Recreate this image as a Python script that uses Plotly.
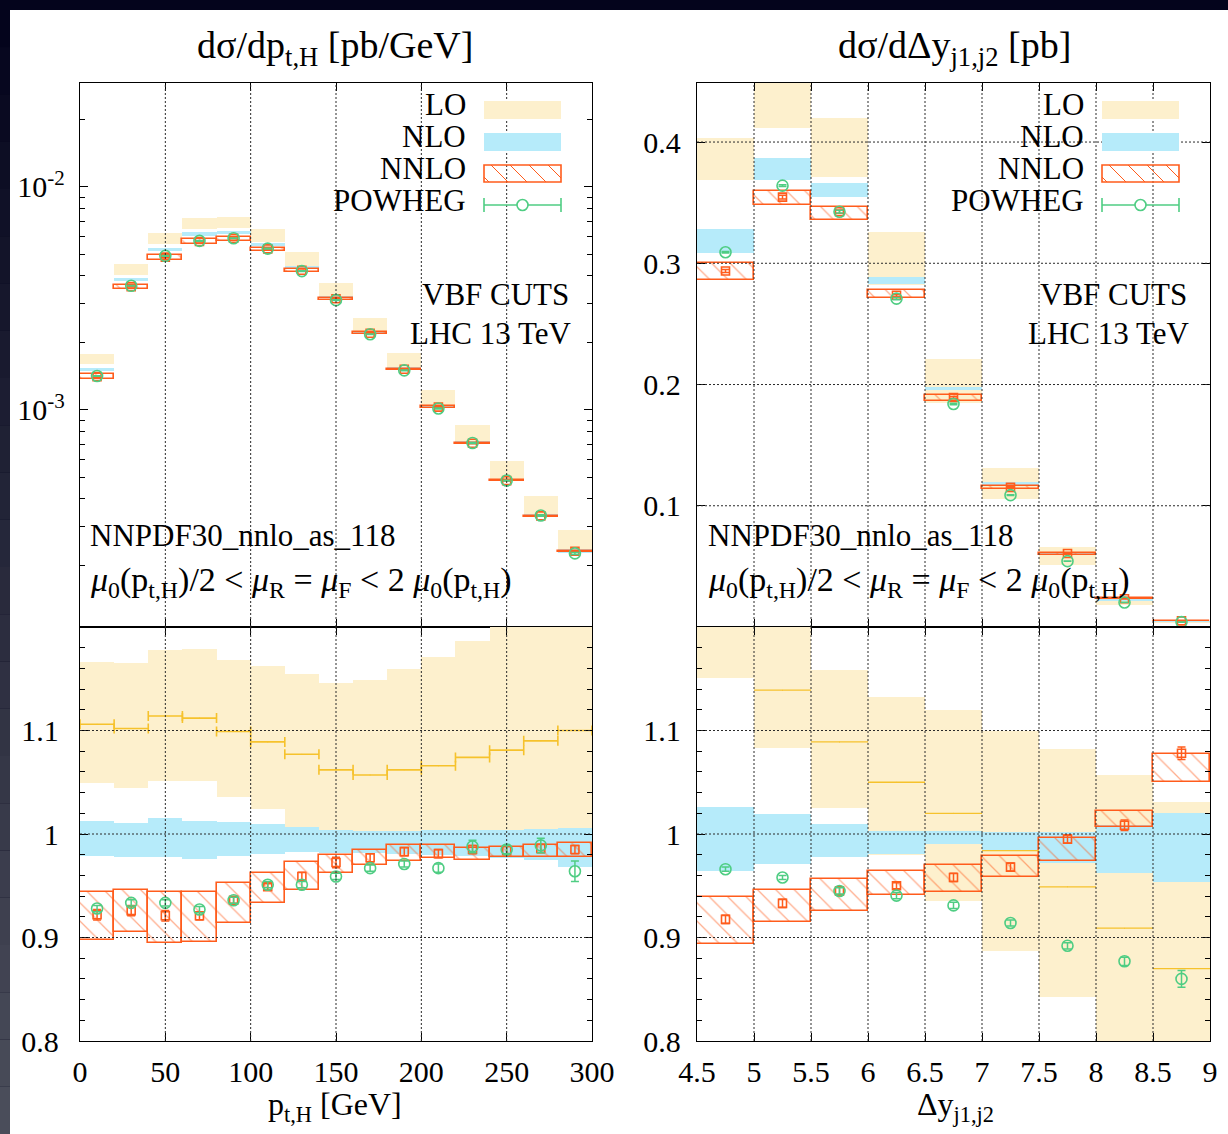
import plotly.graph_objects as go

SERIF = "Liberation Serif"
LO_FILL = "#fdf0cd"
NLO_FILL = "#b6ebfa"
NNLO_COL = "#ff5c1c"
PW_COL = "#4fcd83"
LO_LINE = "#f6c22c"
GRID_COL = "#2a2a2a"

W, H = 1228, 1134

# ---------------- Higgs transverse momentum ----------------
pt_edges = [0, 20, 40, 60, 80, 100, 120, 140, 160, 180, 200, 220, 240, 260, 280, 300]
# NLO central value [pb/GeV]; every other quantity is given as a ratio to it
pt_nlo = [1.53e-3, 3.86e-3, 5.26e-3, 6.18e-3, 6.29e-3, 5.56e-3, 4.41e-3, 3.24e-3,
          2.26e-3, 1.55e-3, 1.05e-3, 7.2e-4, 4.9e-4, 3.4e-4, 2.36e-4]
pt_lo_c = [1.106, 1.102, 1.114, 1.112, 1.099, 1.089, 1.077, 1.062, 1.057, 1.062,
           1.066, 1.074, 1.081, 1.090, 1.100]
pt_lo_dn = [1.049, 1.044, 1.051, 1.051, 1.036, 1.024, 1.007, 1.004, 1.003, 1.003,
            1.004, 1.004, 1.004, 1.005, 1.006]
pt_lo_up = [1.166, 1.165, 1.178, 1.179, 1.168, 1.162, 1.155, 1.146, 1.149, 1.159,
            1.171, 1.186, 1.205, 1.210, 1.230]
pt_nlo_dn = [0.979, 0.978, 0.978, 0.976, 0.979, 0.981, 0.983, 0.982, 0.982, 0.981,
             0.980, 0.979, 0.977, 0.975, 0.968]
pt_nlo_up = [1.013, 1.011, 1.015, 1.013, 1.012, 1.010, 1.007, 1.004, 1.003, 1.003,
             1.004, 1.004, 1.004, 1.005, 1.006]
pt_nnlo_c = [0.922, 0.926, 0.921, 0.921, 0.936, 0.949, 0.959, 0.9725, 0.977, 0.983,
             0.981, 0.985, 0.984, 0.986, 0.985]
pt_nnlo_dn = [0.898, 0.905, 0.895, 0.896, 0.914, 0.933, 0.946, 0.962, 0.970, 0.974,
              0.977, 0.975, 0.978, 0.978, 0.978]
pt_nnlo_up = [0.944, 0.946, 0.944, 0.944, 0.953, 0.962, 0.9725, 0.980, 0.985, 0.989,
              0.989, 0.986, 0.987, 0.989, 0.991]
pt_nnlo_err = [0.005, 0.005, 0.005, 0.004, 0.003, 0.003, 0.004, 0.005, 0.004, 0.004,
               0.004, 0.004, 0.004, 0.004, 0.004]
pt_pw_c = [0.928, 0.9335, 0.9335, 0.927, 0.936, 0.951, 0.951, 0.959, 0.967, 0.971,
           0.967, 0.988, 0.985, 0.989, 0.964]
pt_pw_err = [0.003, 0.003, 0.003, 0.003, 0.003, 0.003, 0.003, 0.003, 0.003, 0.003,
             0.004, 0.006, 0.004, 0.007, 0.010]

# ---------------- rapidity separation of the tagging jets ----------------
dy_edges = [4.5, 5.0, 5.5, 6.0, 6.5, 7.0, 7.5, 8.0, 8.5, 9.0]
dy_nlo = [0.320, 0.380, 0.3625, 0.288, 0.1976, 0.119, 0.0609, 0.0231, 0.0047]
dy_lo_c = [1.205, 1.139, 1.089, 1.050, 1.020, 0.984, 0.949, 0.909, 0.870]
dy_lo_dn = [1.151, 1.083, 1.025, 0.980, 0.935, 0.887, 0.843, 0.790, 0.790]
dy_lo_up = [1.260, 1.230, 1.158, 1.132, 1.120, 1.100, 1.082, 1.057, 1.031]
dy_nlo_dn = [0.964, 0.971, 0.978, 0.981, 0.990, 0.985, 0.972, 0.962, 0.954]
dy_nlo_up = [1.026, 1.019, 1.010, 1.003, 1.003, 1.002, 1.002, 1.009, 1.020]
dy_nnlo_c = [0.9175, 0.933, 0.945, 0.950, 0.958, 0.968, 0.995, 1.0085, 1.078]
dy_nnlo_dn = [0.894, 0.915, 0.926, 0.941, 0.944, 0.958, 0.974, 1.007, 1.050]
dy_nnlo_up = [0.939, 0.946, 0.9565, 0.964, 0.970, 0.9785, 0.996, 1.022, 1.077]
dy_nnlo_err = [0.004, 0.004, 0.004, 0.003, 0.004, 0.004, 0.004, 0.005, 0.006]
dy_pw_c = [0.966, 0.958, 0.945, 0.9405, 0.931, 0.914, 0.892, 0.877, 0.860]
dy_pw_err = [0.002, 0.002, 0.003, 0.003, 0.003, 0.003, 0.003, 0.004, 0.008]

# axis ticks
pt_ticks = [0, 50, 100, 150, 200, 250, 300]
dy_ticks = [4.5, 5.0, 5.5, 6.0, 6.5, 7.0, 7.5, 8.0, 8.5, 9.0]
dy_ticktext = ["4.5", "5", "5.5", "6", "6.5", "7", "7.5", "8", "8.5", "9"]
ratio_ticks = [0.8, 0.9, 1.0, 1.1]
ratio_ticktext = ["0.8", "0.9", "1", "1.1"]
xs_log_ticks = [1e-3, 1e-2]
xs_log_minor = [2e-4, 3e-4, 4e-4, 5e-4, 6e-4, 7e-4, 8e-4, 9e-4,
                2e-3, 3e-3, 4e-3, 5e-3, 6e-3, 7e-3, 8e-3, 9e-3, 2e-2]
xs_lin_ticks = [0.1, 0.2, 0.3, 0.4]


def px(x):
    return x / W


def py(y):
    return 1 - y / H


fig = go.Figure()


def bins(edges):
    mids = [(a + b) / 2 for a, b in zip(edges[:-1], edges[1:])]
    wids = [b - a for a, b in zip(edges[:-1], edges[1:])]
    return mids, wids


def band(x, w, lo, hi, xa, ya, color):
    fig.add_trace(go.Bar(
        x=x, y=[h - l for l, h in zip(lo, hi)], base=lo, width=w,
        marker=dict(color=color, line=dict(width=0)),
        xaxis=xa, yaxis=ya, showlegend=False, hoverinfo="skip"))


def hatched(x, w, lo, hi, xa, ya):
    fig.add_trace(go.Bar(
        x=x, y=[h - l for l, h in zip(lo, hi)], base=lo, width=w,
        marker=dict(color="rgba(0,0,0,0)",
                    line=dict(color=NNLO_COL, width=1.6),
                    pattern=dict(shape="\\", fgcolor=NNLO_COL, bgcolor="rgba(0,0,0,0)",
                                 size=13, solidity=0.1, fillmode="overlay")),
        xaxis=xa, yaxis=ya, showlegend=False, hoverinfo="skip"))


def points(x, y, err, xa, ya, symbol, size, color):
    fig.add_trace(go.Scatter(
        x=x, y=y, mode="markers",
        marker=dict(symbol=symbol, size=size, color=color, line=dict(color=color, width=1.6)),
        error_y=dict(type="data", array=err, color=color, thickness=1.5, width=4),
        xaxis=xa, yaxis=ya, showlegend=False, hoverinfo="skip", cliponaxis=True))


def panel(edges, nlo, lo_c, lo_dn, lo_up, nlo_dn, nlo_up, nnlo_c, nnlo_dn, nnlo_up,
          nnlo_err, pw_c, pw_err, top, bot, cap, lo_width):
    x, w = bins(edges)

    def absval(ratio):
        return [n * q for n, q in zip(nlo, ratio)]

    # absolute cross sections
    band(x, w, absval(lo_dn), absval(lo_up), top[0], top[1], LO_FILL)
    band(x, w, absval(nlo_dn), absval(nlo_up), top[0], top[1], NLO_FILL)
    hatched(x, w, absval(nnlo_dn), absval(nnlo_up), top[0], top[1])
    points(x, absval(nnlo_c), absval(nnlo_err), top[0], top[1], "square-open", 8, NNLO_COL)
    points(x, absval(pw_c), absval(pw_err), top[0], top[1], "circle-open", 11, PW_COL)

    # ratios to NLO
    band(x, w, lo_dn, lo_up, bot[0], bot[1], LO_FILL)
    band(x, w, nlo_dn, nlo_up, bot[0], bot[1], NLO_FILL)
    hatched(x, w, nnlo_dn, nnlo_up, bot[0], bot[1])
    fig.add_trace(go.Scatter(
        x=x, y=lo_c, mode="markers", marker=dict(size=1, color=LO_LINE),
        error_x=dict(type="data", array=[v / 2 for v in w], color=LO_LINE,
                     thickness=lo_width, width=cap),
        xaxis=bot[0], yaxis=bot[1], showlegend=False, hoverinfo="skip"))
    points(x, nnlo_c, nnlo_err, bot[0], bot[1], "square-open", 8, NNLO_COL)
    points(x, pw_c, pw_err, bot[0], bot[1], "circle-open", 11, PW_COL)


panel(pt_edges, pt_nlo, pt_lo_c, pt_lo_dn, pt_lo_up, pt_nlo_dn, pt_nlo_up,
      pt_nnlo_c, pt_nnlo_dn, pt_nnlo_up, pt_nnlo_err, pt_pw_c, pt_pw_err,
      ("x", "y"), ("x2", "y2"), cap=5, lo_width=1.6)
panel(dy_edges, dy_nlo, dy_lo_c, dy_lo_dn, dy_lo_up, dy_nlo_dn, dy_nlo_up,
      dy_nnlo_c, dy_nnlo_dn, dy_nnlo_up, dy_nnlo_err, dy_pw_c, dy_pw_err,
      ("x3", "y3"), ("x4", "y4"), cap=0, lo_width=1.3)

# ---------------- axes ----------------
TICKFONT = dict(family=SERIF, size=30, color="black")
base_axis = dict(showline=True, linecolor="black", linewidth=1.3, mirror="allticks",
                 ticks="inside", ticklen=8, tickwidth=1.2, tickcolor="black",
                 showgrid=False, zeroline=False, tickfont=TICKFONT, layer="above traces",
                 automargin=False)

left_dom = [px(80), px(592)]
right_dom = [px(697), px(1210)]
top_dom = [py(627), py(83)]
bot_dom = [py(1041), py(627)]

minor_ratio = dict(tickmode="linear", tick0=0.8, dtick=0.02, ticks="inside",
                   ticklen=5, tickcolor="black", tickwidth=1.2, showgrid=False)

fig.update_layout(
    template="none",
    xaxis=dict(base_axis, domain=left_dom, anchor="y", range=[0, 300],
               tickmode="array", tickvals=pt_ticks, showticklabels=False),
    yaxis=dict(base_axis, domain=top_dom, anchor="x", type="log", range=[-3.973, -1.534],
               tickmode="array", tickvals=xs_log_ticks,
               ticktext=["10<sup>-3</sup>", "10<sup>-2</sup>"], ticklabelstandoff=8,
               minor=dict(tickmode="array", tickvals=xs_log_minor, ticks="inside",
                          ticklen=5, tickcolor="black", tickwidth=1.2, showgrid=False)),
    xaxis2=dict(base_axis, domain=left_dom, anchor="y2", range=[0, 300],
                tickmode="array", tickvals=pt_ticks, ticklabelstandoff=4),
    yaxis2=dict(base_axis, domain=bot_dom, anchor="x2", range=[0.8, 1.2],
                tickmode="array", tickvals=ratio_ticks, ticktext=ratio_ticktext,
                ticklabelstandoff=14, minor=minor_ratio),
    xaxis3=dict(base_axis, domain=right_dom, anchor="y3", range=[4.5, 9],
                tickmode="array", tickvals=dy_ticks, showticklabels=False),
    yaxis3=dict(base_axis, domain=top_dom, anchor="x3", range=[0, 0.4487],
                tickmode="array", tickvals=xs_lin_ticks, ticklabelstandoff=9),
    xaxis4=dict(base_axis, domain=right_dom, anchor="y4", range=[4.5, 9],
                tickmode="array", tickvals=dy_ticks, ticktext=dy_ticktext,
                ticklabelstandoff=4),
    yaxis4=dict(base_axis, domain=bot_dom, anchor="x4", range=[0.8, 1.2],
                tickmode="array", tickvals=ratio_ticks, ticktext=ratio_ticktext,
                ticklabelstandoff=9, minor=minor_ratio),
)

shapes = []

# page: dark slide border around the white plot sheet
shapes.append(dict(type="rect", xref="paper", yref="paper", x0=px(10), x1=1, y0=0, y1=py(10),
                   fillcolor="white", line=dict(width=0), layer="below"))
n_strip = 24
c_top, c_bot = (4, 4, 28), (74, 77, 90)
for i in range(n_strip):
    t = i / (n_strip - 1)
    col = "rgb(%d,%d,%d)" % tuple(round(a + (b - a) * t) for a, b in zip(c_top, c_bot))
    shapes.append(dict(type="rect", xref="paper", yref="paper", x0=0, x1=px(10),
                       y0=py(H * (i + 1) / n_strip), y1=py(H * i / n_strip),
                       fillcolor=col, line=dict(width=0), layer="below"))

# dotted grid, drawn in front of the bands
GRID = dict(color=GRID_COL, width=1, dash="2px,2px")


def vgrid(xa, ya, vals):
    for v in vals:
        shapes.append(dict(type="line", xref=xa, yref=ya + " domain", x0=v, x1=v, y0=0, y1=1,
                           line=GRID, layer="above"))


def hgrid(xa, ya, vals):
    for v in vals:
        shapes.append(dict(type="line", xref=xa + " domain", yref=ya, x0=0, x1=1, y0=v, y1=v,
                           line=GRID, layer="above"))


vgrid("x", "y", pt_ticks[1:-1])
hgrid("x", "y", [-3, -2])  # log axis: exponents of 1e-3 and 1e-2
vgrid("x2", "y2", pt_ticks[1:-1])
hgrid("x2", "y2", ratio_ticks[1:])
vgrid("x3", "y3", dy_ticks[1:-1])
hgrid("x3", "y3", xs_lin_ticks)
vgrid("x4", "y4", dy_ticks[1:-1])
hgrid("x4", "y4", ratio_ticks[1:])

annotations = []


def text(x, y, s, size=31, anchor="left"):
    annotations.append(dict(xref="paper", yref="paper", x=px(x), y=py(y), text=s,
                            showarrow=False, xanchor=anchor, yanchor="middle",
                            font=dict(family=SERIF, size=size, color="black")))


# legend block (one per panel)
legend_rows = [("LO", 104), ("NLO", 136), ("NNLO", 168), ("POWHEG", 200)]
for dx in (0, 618):
    for label, yy in legend_rows:
        text(468 + dx, yy, label, anchor="right")
    xl, xr = 484 + dx, 561 + dx
    shapes.append(dict(type="rect", xref="paper", yref="paper", x0=px(xl), x1=px(xr),
                       y0=py(119), y1=py(101), fillcolor=LO_FILL, line=dict(width=0)))
    shapes.append(dict(type="rect", xref="paper", yref="paper", x0=px(xl), x1=px(xr),
                       y0=py(151), y1=py(133), fillcolor=NLO_FILL, line=dict(width=0)))
    shapes.append(dict(type="rect", xref="paper", yref="paper", x0=px(xl), x1=px(xr),
                       y0=py(182), y1=py(165), fillcolor="rgba(0,0,0,0)",
                       line=dict(color=NNLO_COL, width=1.6)))
    for k in range(5):
        a = xl - 12 + k * 19
        x0, y0, x1, y1 = a, 165, a + 17, 182
        if x0 < xl:
            y0 = 165 + (xl - x0)
            x0 = xl
        if x1 > xr:
            y1 = 182 - (x1 - xr)
            x1 = xr
        shapes.append(dict(type="line", xref="paper", yref="paper", x0=px(x0), y0=py(y0),
                           x1=px(x1), y1=py(y1), line=dict(color=NNLO_COL, width=1)))
    shapes.append(dict(type="line", xref="paper", yref="paper", x0=px(xl), x1=px(xr),
                       y0=py(205), y1=py(205), line=dict(color=PW_COL, width=1.6)))
    for xe in (xl, xr):
        shapes.append(dict(type="line", xref="paper", yref="paper", x0=px(xe), x1=px(xe),
                           y0=py(198), y1=py(212), line=dict(color=PW_COL, width=1.6)))
    xm = (xl + xr) / 2
    shapes.append(dict(type="circle", xref="paper", yref="paper", x0=px(xm - 5.5),
                       x1=px(xm + 5.5), y0=py(210.5), y1=py(199.5),
                       fillcolor="white", line=dict(color=PW_COL, width=1.6)))

    text(571 + dx, 294, "VBF CUTS", anchor="right")
    text(573 + dx, 333, "LHC 13 TeV", anchor="right")
    text(88 + dx, 535, "NNPDF30_nnlo_as_118")
    text(88 + dx, 582,
         "<i>μ</i><sub>0</sub>(p<sub>t,H</sub>)/2 &lt; <i>μ</i><sub>R</sub> = "
         "<i>μ</i><sub>F</sub> &lt; 2 <i>μ</i><sub>0</sub>(p<sub>t,H</sub>)", size=34)

# panel titles and axis titles
text(335, 48, "dσ/dp<sub>t,H</sub> [pb/GeV]", size=38, anchor="center")
text(954, 48, "dσ/dΔy<sub>j1,j2</sub> [pb]", size=38, anchor="center")
text(335, 1106, "p<sub>t,H</sub> [GeV]", size=32, anchor="center")
text(955, 1106, "Δy<sub>j1,j2</sub>", size=32, anchor="center")

fig.update_layout(
    width=W, height=H, margin=dict(l=0, r=0, t=0, b=0, pad=0), autosize=False,
    paper_bgcolor="rgb(4,4,28)", plot_bgcolor="white",
    barmode="overlay", bargap=0, showlegend=False,
    font=dict(family=SERIF, color="black"),
    shapes=shapes, annotations=annotations,
)

fig.write_html("out.html")
